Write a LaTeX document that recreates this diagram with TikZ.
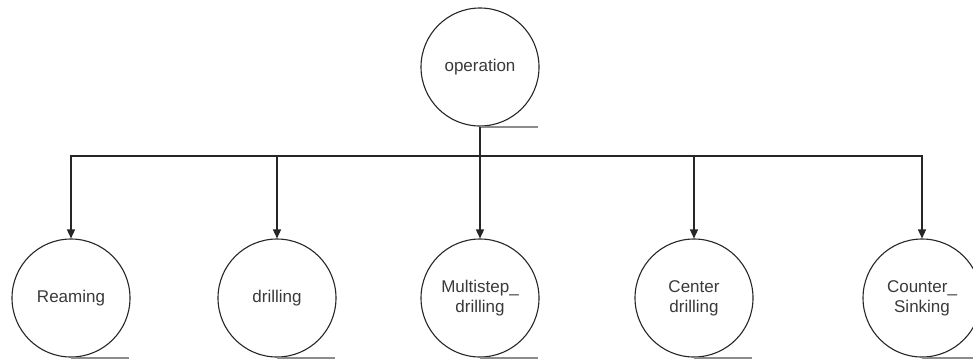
\documentclass[tikz,border=0pt]{standalone}
\usepackage{fontspec}
\setmainfont{Liberation Sans}
\usetikzlibrary{arrows.meta}
\definecolor{txt}{HTML}{3a3a3a}
\tikzset{
  opnode/.style={circle, draw=black!85, line width=1.1pt, minimum size=118pt, inner sep=0pt,
    align=center, text=txt, font=\fontsize{17}{20}\selectfont},
  link/.style={draw=black!85, line width=1.3pt},
  arr/.style={link, -{Triangle[width=8pt,length=9pt]}},
  uline/.style={draw=black!45, line width=2pt}
}
\begin{document}
\begin{tikzpicture}[x=1pt,y=-1pt]
\clip (0,0) rectangle (973,360);
\fill[white] (0,0) rectangle (973,360);
\node[opnode] (op) at (480,67) {operation};
\node[opnode] (c1) at (71,298) {Reaming};
\node[opnode] (c2) at (277,298) {drilling};
\node[opnode] (c3) at (480,298) {Multistep\_\\drilling};
\node[opnode] (c4) at (694,298) {Center\\drilling};
\node[opnode] (c5) at (922,298) {Counter\_\\Sinking};
\coordinate (bus) at (480,156);
\draw[uline] (op.south) -- ++(58,0);
\foreach \n in {c1,c2,c3,c4,c5}{
  \draw[uline] (\n.south) -- ++(58,0);
}
\draw[link] (op.south) -- (bus);
\foreach \n in {c1,c2,c3,c4,c5}{
  \draw[arr] (bus) -| (\n.north);
}
\end{tikzpicture}
\end{document}
